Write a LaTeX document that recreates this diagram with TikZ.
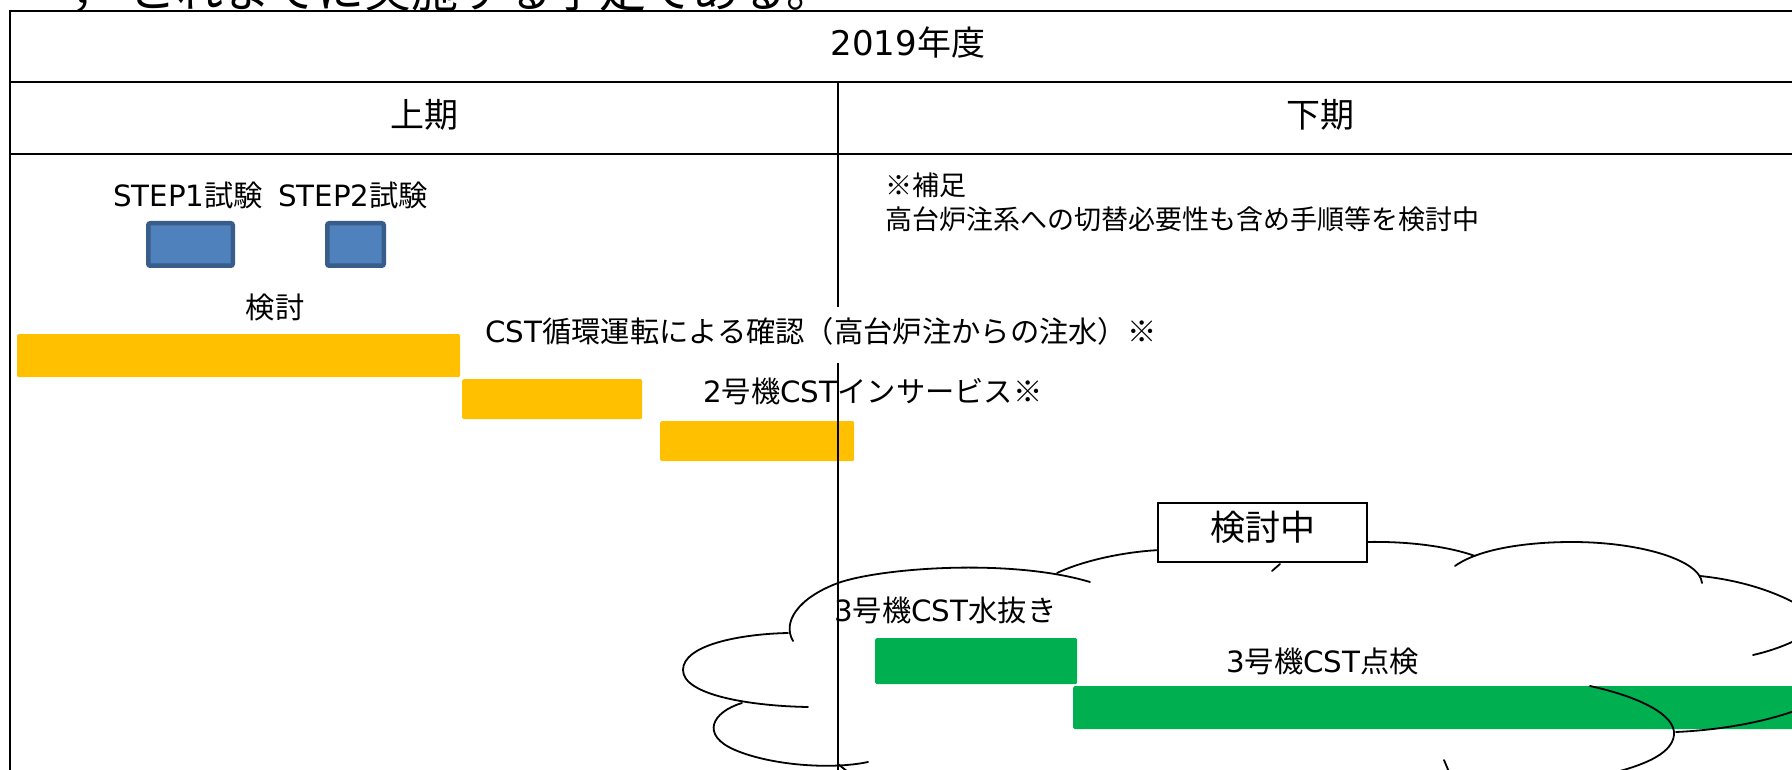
\documentclass[tikz,border=0pt]{standalone}
\usepackage{fontspec}
\setmainfont{DejaVu Sans}
\newfontfamily\jp{Noto Sans CJK JP}
\definecolor{bluefill}{HTML}{4F81BD}
\definecolor{blueline}{HTML}{385D8A}
\definecolor{baryellow}{HTML}{FFC000}
\definecolor{bargreen}{HTML}{00B050}
\begin{document}
\begin{tikzpicture}[x=1pt,y=-1pt,
  tline/.style={line width=2.2pt, draw=black},
  cloudline/.style={line width=1.8pt, draw=black, line cap=round},
  lbl/.style={inner sep=0pt, anchor=base west, font=\fontsize{29.3}{35}\selectfont},
  hdr/.style={inner sep=0pt, anchor=base, font=\fontsize{34}{40}\selectfont},
  note/.style={inner sep=0pt, anchor=base west, font=\fontsize{27}{32}\selectfont},
  stepbox/.style={fill=bluefill, draw=blueline, line width=4.5pt, rounded corners=2pt, inner sep=0pt},
  ybar/.style={fill=baryellow, rounded corners=1.5pt, inner sep=0pt, anchor=north west},
  gbar/.style={fill=bargreen, rounded corners=1.5pt, inner sep=0pt, anchor=north west},
]
\useasboundingbox (0,0) rectangle (1792,770);
\fill[white] (0,0) rectangle (1792,770);

% clipped line of text above the table
\node[inner sep=0pt, anchor=base west, font=\jp\fontsize{47}{50}\selectfont] (topc) at (71,8) {，};
\node[inner sep=0pt, anchor=base west, font=\jp\fontsize{47}{50}\selectfont] (topt) at (129,8) {これまでに実施する予定である。};

% bars
\node[stepbox, minimum width=84.5pt, minimum height=42.5pt] (b1) at (190.5,244.5) {};
\node[stepbox, minimum width=56.5pt, minimum height=42.5pt] (b2) at (355.5,244.5) {};
\node[ybar, minimum width=443pt, minimum height=43pt] (y1) at (17,334) {};
\node[ybar, minimum width=180pt, minimum height=40pt] (y2) at (462,379) {};
\node[ybar, minimum width=194pt, minimum height=40pt] (y3) at (660,421) {};
\node[gbar, minimum width=202pt, minimum height=46pt] (g1) at (875,638) {};
\node[gbar, minimum width=740pt, minimum height=43pt] (g2) at (1073,686) {};

% table
\draw[tline] (10,11) -- (1810,11);
\draw[tline] (10,82) -- (1810,82);
\draw[tline] (10,154) -- (1810,154);
\draw[tline] (10,10) -- (10,780);
\draw[line width=2pt] (838,82) -- (838,780);

% header texts
\node[hdr] (year) at (908,56) {2019{\jp 年度}};
\node[hdr] (h1) at (424,128) {\jp 上期};
\node[hdr] (h2) at (1320,128) {\jp 下期};

% labels
\node[lbl] (s1) at (113,207) {STEP1{\jp 試験}};
\node[lbl] (s2) at (278,207) {STEP2{\jp 試験}};
\node[lbl, anchor=base] (kento) at (275,318) {\jp 検討};
\node[lbl, fill=white, inner xsep=3pt, text height=35pt, text depth=21pt] (cst) at (482,342) {CST{\jp 循環運転による確認（高台炉注からの注水）※}};
\node[lbl] (in2) at (703,402) {2{\jp 号機}CST{\jp インサービス※}};
\node[note] (hosoku1) at (885,196) {\jp ※補足};
\node[note] (hosoku2) at (885,230) {\jp 高台炉注系への切替必要性も含め手順等を検討中};
\node[lbl] (mizunuki) at (834,621) {3{\jp 号機}CST{\jp 水抜き}};
\node[lbl] (tenken) at (1226,672) {3{\jp 号機}CST{\jp 点検}};

% cloud
\draw[cloudline] (793,641) .. controls (782,622) and (798,598) .. (838,583)
                 .. controls (880,568) and (1010,558) .. (1090,582);
\draw[cloudline] (788,633) .. controls (740,634) and (683,645) .. (683,670)
                 .. controls (683,695) and (750,706) .. (808,707);
\draw[cloudline] (742,703) .. controls (712,712) and (700,735) .. (735,750)
                 .. controls (770,765) and (830,770) .. (868,762);
\draw[cloudline] (838,764) -- (848,772);
\draw[cloudline] (1057,573) .. controls (1080,562) and (1120,552) .. (1160,550);
\draw[cloudline] (1365,542) .. controls (1410,541) and (1450,547) .. (1475,556);
\draw[cloudline] (1272,571) -- (1280,564);
\draw[cloudline] (1455,566) .. controls (1480,548) and (1530,542) .. (1572,542)
                 .. controls (1640,542) and (1700,560) .. (1702,583);
\draw[cloudline] (1700,576) .. controls (1740,580) and (1780,592) .. (1810,612);
\draw[cloudline] (1753,655) .. controls (1775,650) and (1795,642) .. (1810,632);
\draw[cloudline] (1590,686) .. controls (1640,697) and (1676,715) .. (1674,735)
                 .. controls (1672,755) and (1640,768) .. (1590,778);
\draw[cloudline] (1676,732) .. controls (1720,730) and (1770,722) .. (1810,705);
\draw[cloudline] (1444,760) -- (1449,772);

% box on the cloud
\node[draw, line width=2.2pt, fill=white, minimum width=209pt, minimum height=59pt, inner sep=0pt,
      font=\jp\fontsize{35}{40}\selectfont, text height=30.8pt, text depth=14.2pt] (kentochu) at (1262.5,532.5) {検討中};
\end{tikzpicture}
\end{document}
